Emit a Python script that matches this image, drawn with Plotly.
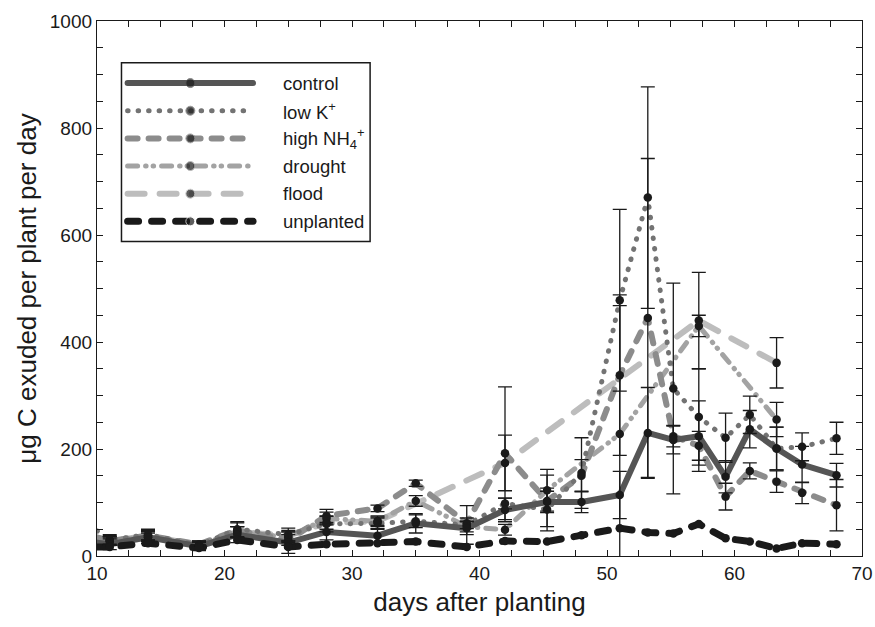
import plotly.graph_objects as go

# sampling days (days after planting)
days = [10, 11, 14, 18, 21, 25, 28, 32, 35, 39, 42, 45.3, 48, 51, 53.2, 55.2, 57.2, 59.3, 61.2, 63.3, 65.3, 68]
drought_days = [10, 11, 14, 18, 21, 25, 28, 32, 35, 39, 42, 45.3, 51, 57.2, 63.3]
flood_days = [10, 11, 14, 18, 21, 25, 28, 32, 42, 57.2, 63.3]

# ug C exuded per plant per day
control = [25, 22, 35, 18, 40, 25, 45, 38, 61, 52, 86, 101, 101, 114, 230, 217, 224, 148, 237, 201, 171, 151]
low_k = [47, 30, 40, 20, 50, 40, 60, 61, 65, 58, 98, 87, 155, 478, 670, 313, 260, 221, 264, 201, 204, 220]
high_nh4 = [35, 28, 38, 22, 48, 30, 75, 89, 136, 61, 192, 103, 150, 338, 445, 224, 206, 111, 159, 139, 118, 95]
drought = [35, 30, 35, 20, 45, 35, 70, 65, 103, 55, 49, 123, 228, 430, 255]
flood = [30, 28, 38, 20, 45, 38, 62, 65, 174, 440, 361]
unplanted = [17, 17, 24, 15, 30, 17, 22, 24, 27, 17, 28, 27, 39, 52, 44, 42, 60, 33, 27, 14, 24, 22]

# error bars (from the second sampling day on)
control_err = [10, 12, 8, 15, 20, 15, 12, 18, 12, 22, 20, 20, 44, 85, 26, 66, 30, 35, 40, 34, 22]
low_k_err = [10, 10, 8, 14, 12, 15, 10, 12, 36, 10, 40, 66, 170, 207, 197, 90, 46, 35, 40, 26, 30]
high_nh4_err = [8, 10, 6, 14, 10, 12, 6, 6, 10, 124, 48, 30, 150, 298, 20, 27, 25, 15, 20, 20, 48]
drought_err = [8, 8, 6, 10, 10, 12, 8, 10, 10, 10, 39, 240, 20, 32]
flood_err = [8, 8, 6, 10, 10, 12, 10, 52, 90, 47]

labels = ['control', 'low K<sup>+</sup>', 'high NH<sub>4</sub><sup>+</sup>', 'drought', 'flood', 'unplanted']

series = {
    'control': dict(x=days, y=control, err=control_err, color='#555555', width=6, dash='solid'),
    'low_k': dict(x=days, y=low_k, err=low_k_err, color='#737373', width=5, dash='0.5px,10px'),
    'high_nh4': dict(x=days, y=high_nh4, err=high_nh4_err, color='#8c8c8c', width=6, dash='10px,11px'),
    'drought': dict(x=drought_days, y=drought, err=drought_err, color='#a3a3a3', width=5, dash='10px,8px,0.5px,7px,0.5px,8px'),
    'flood': dict(x=flood_days, y=flood, err=flood_err, color='#bdbdbd', width=6, dash='17px,15px'),
    'unplanted': dict(x=days, y=unplanted, err=None, color='#1a1a1a', width=7, dash='11px,13px'),
}
order = ['control', 'low_k', 'high_nh4', 'drought', 'flood', 'unplanted']
draw_order = ['flood', 'drought', 'high_nh4', 'low_k', 'control', 'unplanted']

FONT = 'Liberation Sans, Arial, Helvetica, sans-serif'
INK = '#1a1a1a'

fig = go.Figure()

for key in draw_order:
    s = series[key]
    fig.add_trace(go.Scatter(
        x=s['x'], y=s['y'], mode='lines',
        line=dict(color=s['color'], width=s['width'], dash=s['dash']),
        showlegend=False, hoverinfo='skip'
    ))

for key in draw_order:
    s = series[key]
    err = dict(type='data', array=s['err'], color=INK, thickness=1.3, width=7) if s['err'] else dict(visible=False)
    fig.add_trace(go.Scatter(
        x=s['x'][1:], y=s['y'][1:], mode='markers',
        marker=dict(color=INK, size=8.5),
        error_y=err, showlegend=False
    ))

# hand-made legend with long sample lines, drawn on an overlay axis in [0, 1]
lx0, lx1, lxm = 0.040, 0.204, 0.122
row_top, row_step = 0.884, 0.0517
for i, key in enumerate(order):
    s = series[key]
    yy = row_top - i * row_step
    fig.add_trace(go.Scatter(
        x=[lx0, lxm, lx1], y=[yy, yy, yy], mode='lines+markers',
        line=dict(color=s['color'], width=s['width'], dash=s['dash']),
        marker=dict(color=INK, size=[0, 9, 0]),
        xaxis='x2', yaxis='y2', showlegend=False, hoverinfo='skip'
    ))
    fig.add_annotation(
        x=0.241, y=yy, xref='x2', yref='y2', text=labels[i], showarrow=False,
        xanchor='left', yanchor='middle', font=dict(family=FONT, size=18.5, color=INK)
    )

fig.add_shape(type='rect', xref='paper', yref='paper', x0=0.032, x1=0.357, y0=0.588, y1=0.922,
              line=dict(color=INK, width=1.5))

axis_common = dict(
    showline=True, linecolor=INK, linewidth=1.3, mirror='allticks',
    ticks='inside', ticklen=6, tickcolor=INK, tickwidth=1.2,
    showgrid=False, zeroline=False, automargin=False,
    tickfont=dict(family=FONT, size=19, color=INK),
)

fig.update_layout(
    width=875, height=627,
    margin=dict(l=97, r=13, t=21, b=71),
    plot_bgcolor='white', paper_bgcolor='white',
    font=dict(family=FONT, color=INK),
    xaxis=dict(range=[10, 70], dtick=10,
               minor=dict(dtick=2.5, ticks='inside', ticklen=6, tickcolor=INK),
               title=dict(text='days after planting', font=dict(size=26), standoff=9),
               **axis_common),
    yaxis=dict(range=[0, 1000], dtick=200,
               minor=dict(dtick=50, ticks='inside', ticklen=6, tickcolor=INK),
               title=dict(text='μg C exuded per plant per day', font=dict(size=26), standoff=5),
               **axis_common),
    xaxis2=dict(overlaying='x', range=[0, 1], visible=False),
    yaxis2=dict(overlaying='y', range=[0, 1], visible=False),
    showlegend=False,
)

page_fix = (
    "document.body.style.margin='0';"
    "var s=document.createElement('style');"
    "s.innerHTML='.js-line{stroke-linecap:round;stroke-linejoin:round;}';"
    "document.head.appendChild(s);"
)
fig.write_html("out.html", post_script=page_fix, config={'displayModeBar': False})
